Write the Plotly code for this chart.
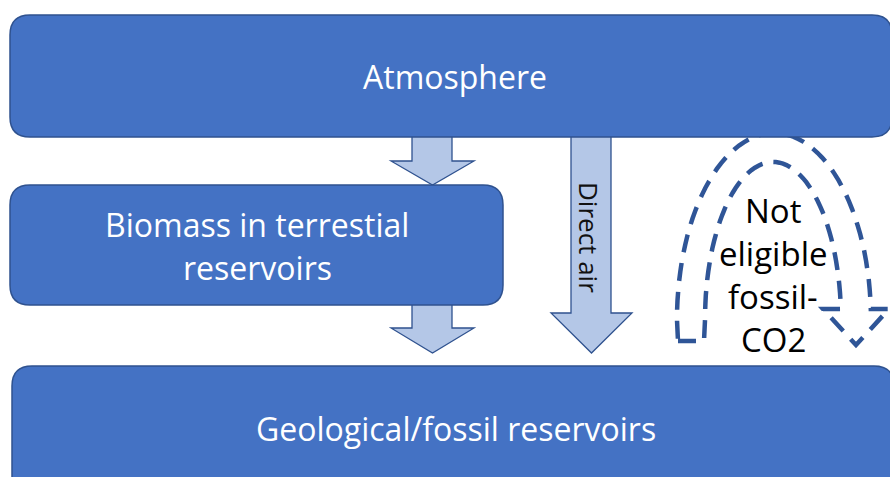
import numpy as np
import plotly.graph_objects as go

# ---- content -------------------------------------------------------------
box_labels = ["Atmosphere", ["Biomass in terrestial", "reservoirs"], "Geological/fossil reservoirs"]
flow_labels = ["", "", "Direct air"]
callout_lines = ["Not", "eligible", "fossil-", "CO2"]

# ---- layout geometry (pixel space, y downward) ---------------------------
W, H = 890, 477
boxes = [  # x0, y0, x1, y1, corner radius
    (10, 15, 892, 137, 20),
    (10, 185, 503, 305, 20),
    (12, 366, 894, 500, 20),
]
box_text_y = [[76], [224, 267], [428]]
box_text_x = [455, 257, 456]

arrows = [  # shaft x0, x1, y_top, y_head, head x0, x1, tip y
    (412, 452, 134, 161, 391, 474, 185),
    (412, 452, 303, 328, 391, 474, 353),
    (571, 611, 134, 313, 551, 632, 353),
]

BOX_FILL = "#4472C4"
BOX_LINE = "#2F528F"
ARROW_FILL = "#B4C7E7"
DASH_COLOR = "#2F5597"
FONT = "Open Sans"


def rounded_rect(x0, y0, x1, y1, r):
    return (f"M {x0+r},{y0} L {x1-r},{y0} Q {x1},{y0} {x1},{y0+r} "
            f"L {x1},{y1-r} Q {x1},{y1} {x1-r},{y1} L {x0+r},{y1} "
            f"Q {x0},{y1} {x0},{y1-r} L {x0},{y0+r} Q {x0},{y0} {x0+r},{y0} Z")


def block_arrow(sx0, sx1, yt, yh, hx0, hx1, tip):
    cx = (hx0 + hx1) / 2
    return (f"M {sx0},{yt} L {sx1},{yt} L {sx1},{yh} L {hx1},{yh} "
            f"L {cx},{tip} L {hx0},{yh} L {sx0},{yh} Z")


def arc_pts(cx, cy, rx, ry, t0, t1, n=60):
    t = np.linspace(t0, t1, n)
    return [(cx + rx * np.cos(a), cy - ry * np.sin(a)) for a in t]


# curved (U-turn) arrow outline, dashed
inner = arc_pts(773, 320, 68, 158, np.pi, np.arcsin(11 / 158))
outer = arc_pts(774, 320, 97, 187, np.arcsin(11 / 187), np.pi)
pts = [(678, 341), (704, 341)] + inner + [(823, 309), (856, 345), (889, 309)] + outer
uturn_path = "M " + " L ".join(f"{x:.1f},{y:.1f}" for x, y in pts) + " Z"

fig = go.Figure()
fig.add_trace(go.Scatter(x=[0, W], y=[0, H], mode="markers",
                         marker=dict(opacity=0), hoverinfo="skip", showlegend=False))

shapes = []
shapes.append(dict(type="path", path=uturn_path, xref="x", yref="y",
                   line=dict(color=DASH_COLOR, width=4.5, dash="18px,11px"),
                   fillcolor="rgba(0,0,0,0)"))
for a in arrows:
    shapes.append(dict(type="path", path=block_arrow(*a), xref="x", yref="y",
                       fillcolor=ARROW_FILL, line=dict(color=BOX_LINE, width=1.3)))
for b in boxes:
    shapes.append(dict(type="path", path=rounded_rect(*b), xref="x", yref="y",
                       fillcolor=BOX_FILL, line=dict(color=BOX_LINE, width=1.5)))

annotations = []
for lab, xs, ys in zip(box_labels, box_text_x, box_text_y):
    lines = lab if isinstance(lab, list) else [lab]
    for line, y in zip(lines, ys):
        annotations.append(dict(x=xs, y=y, xref="x", yref="y", text=line, showarrow=False,
                                font=dict(family=FONT, size=32, color="white"),
                                xanchor="center", yanchor="middle"))

annotations.append(dict(x=589, y=237, xref="x", yref="y", text=flow_labels[2], showarrow=False,
                        textangle=90, font=dict(family=FONT, size=26, color="#111111"),
                        xanchor="center", yanchor="middle"))

for line, y in zip(callout_lines, [210, 253, 296, 339]):
    annotations.append(dict(x=773, y=y, xref="x", yref="y", text=line, showarrow=False,
                            font=dict(family=FONT, size=33, color="black"),
                            xanchor="center", yanchor="middle"))

fig.update_layout(
    width=W, height=H, margin=dict(l=0, r=0, t=0, b=0),
    paper_bgcolor="white", plot_bgcolor="white",
    xaxis=dict(range=[0, W], visible=False, fixedrange=True),
    yaxis=dict(range=[H, 0], visible=False, fixedrange=True),
    shapes=shapes, annotations=annotations, showlegend=False,
)
fig.write_html("out.html", config={"displayModeBar": False},
               post_script="document.body.style.margin='0';document.body.style.overflow='hidden';")
